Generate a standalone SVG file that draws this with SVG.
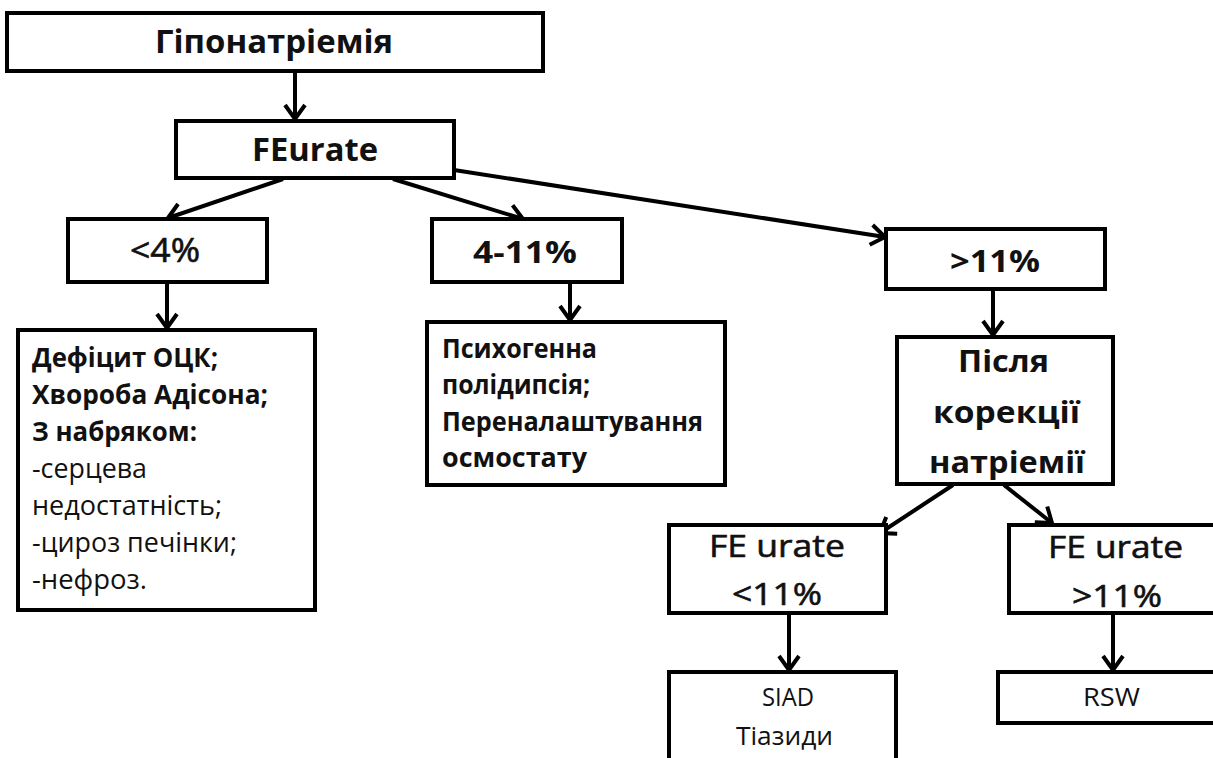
<svg xmlns="http://www.w3.org/2000/svg" width="1213" height="758" viewBox="0 0 1213 758">
<defs>
<style>
.box{fill:#fff;stroke:#000;stroke-width:4}
.c{stroke:#000;stroke-width:4;fill:none}
text{font-family:"Open Sans","Noto Sans","Liberation Sans",sans-serif;fill:#111}
.b{font-weight:bold}
.r{stroke:#111;stroke-width:0.6}
</style>
<marker id="ah" viewBox="0 0 18 24" refX="16" refY="12" markerWidth="18" markerHeight="24" markerUnits="userSpaceOnUse" orient="auto">
<path d="M2,2 L16,12 L2,22" fill="none" stroke="#000" stroke-width="4"/>
</marker>
</defs>
<rect width="1213" height="758" fill="#fff"/>
<g id="connectors">
<line class="c" x1="295" y1="71" x2="295" y2="119" marker-end="url(#ah)"/>
<line class="c" x1="283" y1="179" x2="168" y2="218" marker-end="url(#ah)"/>
<line class="c" x1="393" y1="179" x2="523" y2="219" marker-end="url(#ah)"/>
<line class="c" x1="454" y1="170" x2="885" y2="237" marker-end="url(#ah)"/>
<line class="c" x1="167" y1="282" x2="167" y2="328" marker-end="url(#ah)"/>
<line class="c" x1="570" y1="282" x2="570" y2="320" marker-end="url(#ah)"/>
<line class="c" x1="993" y1="289" x2="993" y2="335" marker-end="url(#ah)"/>
<line class="c" x1="953" y1="485" x2="880" y2="533" marker-end="url(#ah)"/>
<line class="c" x1="1004" y1="485" x2="1052" y2="523" marker-end="url(#ah)"/>
<line class="c" x1="789" y1="615" x2="789" y2="670" marker-end="url(#ah)"/>
<line class="c" x1="1113" y1="615" x2="1113" y2="670" marker-end="url(#ah)"/>
</g>
<g id="n-hypo">
<rect class="box" x="7" y="13" width="536" height="58"/>
<text class="b" x="155" y="53" font-size="33" textLength="238" lengthAdjust="spacingAndGlyphs">Гіпонатріемія</text>
</g>
<g id="n-feurate">
<rect class="box" x="176" y="121" width="278" height="57"/>
<text class="b" x="252" y="161" font-size="32" textLength="126" lengthAdjust="spacingAndGlyphs">FEurate</text>
</g>
<g id="n-lt4">
<rect class="box" x="68" y="219" width="199" height="63"/>
<text class="r" x="130" y="262" font-size="32" textLength="70" lengthAdjust="spacingAndGlyphs">&lt;4%</text>
</g>
<g id="n-4-11">
<rect class="box" x="432" y="219" width="190" height="63"/>
<text class="b" x="473" y="263" font-size="31" textLength="104" lengthAdjust="spacingAndGlyphs">4-11%</text>
</g>
<g id="n-gt11">
<rect class="box" x="886" y="229" width="219" height="60"/>
<text class="b" x="950" y="272" font-size="31" textLength="90" lengthAdjust="spacingAndGlyphs">&gt;11%</text>
</g>
<g id="n-deficit">
<rect class="box" x="18" y="330" width="297" height="280"/>
<text class="b" x="32" y="367" font-size="27" textLength="186" lengthAdjust="spacingAndGlyphs">Дефіцит ОЦК;</text>
<text class="b" x="32" y="404" font-size="27" textLength="236" lengthAdjust="spacingAndGlyphs">Хвороба Адісона;</text>
<text class="b" x="32" y="441" font-size="27" textLength="165" lengthAdjust="spacingAndGlyphs">З набряком:</text>
<text x="32" y="478" font-size="27" textLength="115" lengthAdjust="spacingAndGlyphs">-серцева</text>
<text x="32" y="515" font-size="27" textLength="190" lengthAdjust="spacingAndGlyphs">недостатність;</text>
<text x="32" y="552" font-size="27" textLength="205" lengthAdjust="spacingAndGlyphs">-цироз печінки;</text>
<text x="32" y="589" font-size="27" textLength="115" lengthAdjust="spacingAndGlyphs">-нефроз.</text>
</g>
<g id="n-psycho">
<rect class="box" x="427" y="322" width="298" height="163"/>
<text class="b" x="442" y="358" font-size="27" textLength="155" lengthAdjust="spacingAndGlyphs">Психогенна</text>
<text class="b" x="442" y="394" font-size="27" textLength="148" lengthAdjust="spacingAndGlyphs">полідипсія;</text>
<text class="b" x="442" y="431" font-size="27" textLength="261" lengthAdjust="spacingAndGlyphs">Переналаштування</text>
<text class="b" x="442" y="467" font-size="27" textLength="145" lengthAdjust="spacingAndGlyphs">осмостату</text>
</g>
<g id="n-after">
<rect class="box" x="897" y="337" width="216" height="147"/>
<text class="b" x="958" y="372" font-size="31" textLength="91" lengthAdjust="spacingAndGlyphs">Після</text>
<text class="b" x="933" y="423" font-size="31" textLength="147" lengthAdjust="spacingAndGlyphs">корекції</text>
<text class="b" x="929" y="473" font-size="31" textLength="156" lengthAdjust="spacingAndGlyphs">натріемії</text>
</g>
<g id="n-fe-lt11">
<rect class="box" x="669" y="525" width="217" height="88"/>
<text class="r" x="709" y="557" font-size="31" textLength="136" lengthAdjust="spacingAndGlyphs">FE urate</text>
<text class="r" x="732" y="605" font-size="31" textLength="90" lengthAdjust="spacingAndGlyphs">&lt;11%</text>
</g>
<g id="n-fe-gt11">
<rect class="box" x="1009" y="525" width="214" height="88"/>
<text class="r" x="1048" y="558" font-size="31" textLength="135" lengthAdjust="spacingAndGlyphs">FE urate</text>
<text class="r" x="1072" y="607" font-size="31" textLength="90" lengthAdjust="spacingAndGlyphs">&gt;11%</text>
</g>
<g id="n-siad">
<rect class="box" x="669" y="672" width="227" height="100"/>
<text x="762" y="706" font-size="25" textLength="52" lengthAdjust="spacingAndGlyphs">SIAD</text>
<text x="736" y="745" font-size="25" textLength="97" lengthAdjust="spacingAndGlyphs">Тіазиди</text>
</g>
<g id="n-rsw">
<rect class="box" x="998" y="672" width="225" height="51"/>
<text x="1083" y="706" font-size="25" textLength="57" lengthAdjust="spacingAndGlyphs">RSW</text>
</g>
</svg>
